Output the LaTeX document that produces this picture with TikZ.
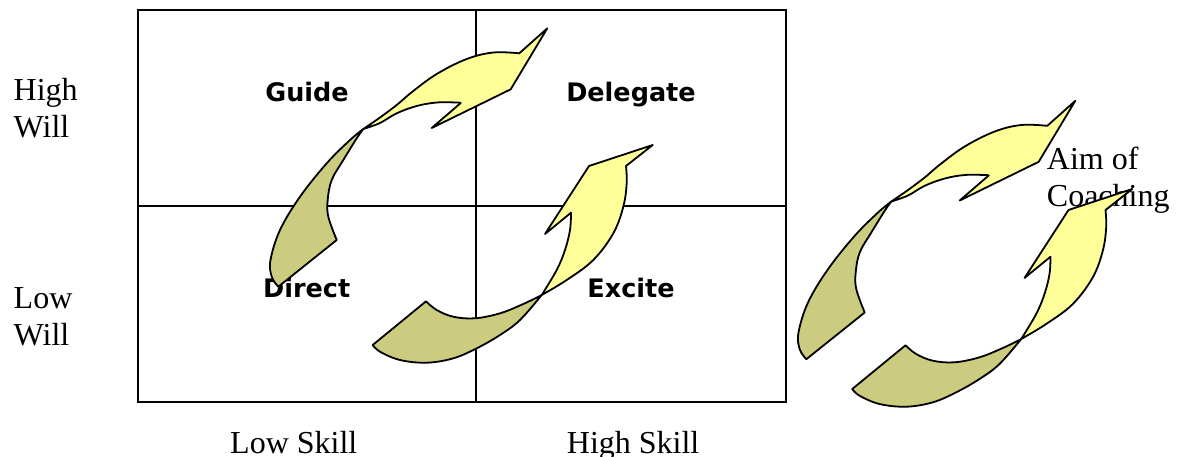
\documentclass[tikz,border=0pt]{standalone}
\usepackage{fontspec}
\setmainfont{Liberation Serif}
\newfontfamily\quadfont{DejaVu Sans}

\definecolor{frontyellow}{HTML}{FFFF99}
\definecolor{backkhaki}{HTML}{CCCC80}

\tikzset{
  ribbon/.style={draw=black, line width=1.8pt, line join=round},
  backside/.style={ribbon, fill=backkhaki},
  frontside/.style={ribbon, fill=frontyellow},
  gridline/.style={draw=black, line width=2pt},
  axislabel/.style={inner sep=0pt, align=left, font=\fontsize{32}{36.6}\selectfont},
  quadlabel/.style={inner sep=0pt, anchor=base, font=\quadfont\bfseries\fontsize{25.5}{30}\selectfont},
  % twisted arrow that turns up and to the right
  turnup/.pic={
    \path[backside] plot[smooth, tension=0.6] coordinates {(363.3,129) (350,140) (326.7,163.3) (300,196.7) (280,230) (270.5,260) (271.7,276.7) (278.3,286.7)}
      -- (336.7,240)
      -- plot[smooth, tension=0.6] coordinates {(336.7,240) (328.3,216.7) (327.7,200) (331.7,180) (343.3,160) (356.7,138.3) (363.3,129)}
      -- cycle;
    \path[frontside] plot[smooth, tension=0.6] coordinates {(363.3,129) (380,117.5) (396.7,105) (412,92) (436.7,74) (466.7,59) (493.3,52.5) (519.3,53.3)}
      -- (547.3,28.3) -- (510.7,89.3) -- (431.7,128) -- (460.7,103)
      -- plot[smooth, tension=0.6] coordinates {(460.7,103) (456.7,102.5) (436.7,102.5) (416.7,106) (396.7,113.3) (380,123) (363.3,129)}
      -- cycle;
  },
  % twisted arrow that sweeps right and turns upward
  turnright/.pic={
    \path[backside] plot[smooth, tension=0.6] coordinates {(541.7,295) (520,320) (500,335) (476.7,348.3) (453.3,358.3) (426.7,362.7) (400,360) (380,351.7) (372.7,345)}
      -- (426,301.3)
      -- plot[smooth, tension=0.6] coordinates {(426,301.3) (436.7,310) (453.3,316.7) (475,318.3) (500,313.3) (523.3,304) (541.7,295)}
      -- cycle;
    \path[frontside] plot[smooth, tension=0.6] coordinates {(541.7,295) (566.7,280) (593.3,260) (613.3,233.3) (623.3,206.7) (626.7,183.3) (626,166)}
      -- (652.7,145) -- (589,166) -- (545,234) -- (571,212.7)
      -- plot[smooth, tension=0.6] coordinates {(571,212.7) (570,230) (565,250) (556.7,270) (541.7,295)}
      -- cycle;
  }
}

\begin{document}
\begin{tikzpicture}[x=1pt, y=-1pt]
  \useasboundingbox (0,0) rectangle (1183,456);

  % skill/will grid
  \draw[gridline] (137.5,10.3) rectangle (786,402);
  \draw[gridline] (476,10.3) -- (476,402);
  \draw[gridline] (137.5,205.5) -- (786,205.5);

  % axis labels (base anchor sits on the last line)
  \node[axislabel, anchor=base west] (highwill) at (13.5,137.3) {High\\Will};
  \node[axislabel, anchor=base west] (lowwill) at (13.5,345) {Low\\Will};
  \node[axislabel, anchor=base west] (lowskill) at (230,453) {Low Skill};
  \node[axislabel, anchor=base west] (highskill) at (566.7,453) {High Skill};
  \node[axislabel, anchor=base west] (aim) at (1046.7,206) {Aim of\\Coaching};

  % quadrant labels
  \node[quadlabel] (guide) at (307,101.7) {Guide};
  \node[quadlabel] (delegate) at (631,101.7) {Delegate};
  \node[quadlabel] (direct) at (306.7,297.3) {Direct};
  \node[quadlabel] (excite) at (631,297.3) {Excite};

  % development arrows inside the grid
  \pic {turnup};
  \pic {turnright};

  % the same pair beside the grid
  \pic at (528,72.5) {turnup};
  \pic at (479.5,44) {turnright};
\end{tikzpicture}
\end{document}
